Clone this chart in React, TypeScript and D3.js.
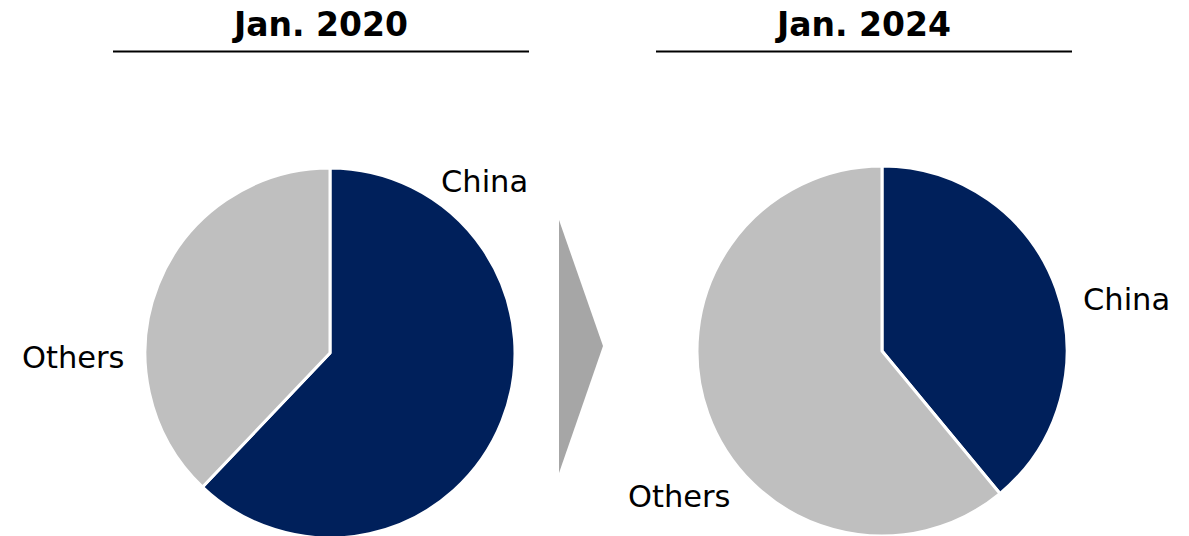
import React from "react";
import * as d3 from "d3";

const categories = ["China", "Others"];
const values2020 = [62.1, 37.9];
const values2024 = [39.0, 61.0];
const titles = ["Jan. 2020", "Jan. 2024"];
const colors = ["#00205B", "#BFBFBF"];

const W = 1189;
const H = 536;
const R = 185;

type PieSpec = {
  title: string;
  values: number[];
  cx: number;
  cy: number;
  titleX: number;
  lineX: [number, number];
  labels: { x: number; y: number }[];
};

const pies: PieSpec[] = [
  {
    title: titles[0],
    values: values2020,
    cx: 330,
    cy: 353,
    titleX: 321,
    lineX: [113, 529],
    labels: [
      { x: 441, y: 192 },
      { x: 22, y: 368 },
    ],
  },
  {
    title: titles[1],
    values: values2024,
    cx: 882,
    cy: 351,
    titleX: 864,
    lineX: [656, 1072],
    labels: [
      { x: 1083, y: 310 },
      { x: 628, y: 507 },
    ],
  },
];

export default function App() {
  const pie = d3.pie<number>().sort(null).value((d) => d);
  const arc = d3.arc<d3.PieArcDatum<number>>().innerRadius(0).outerRadius(R);
  const font = "'DejaVu Sans', Verdana, sans-serif";
  return (
    <svg
      width={W}
      height={H}
      style={{ position: "absolute", left: 0, top: 0, background: "#fff" }}
      fontFamily={font}
    >
      {pies.map((p, i) => (
        <g key={i}>
          <text
            x={p.titleX}
            y={36}
            textAnchor="middle"
            fontWeight="bold"
            fontSize={33}
            fill="#000"
          >
            {p.title}
          </text>
          <line
            x1={p.lineX[0]}
            x2={p.lineX[1]}
            y1={51.5}
            y2={51.5}
            stroke="#000"
            strokeWidth={2}
          />
          <g transform={`translate(${p.cx},${p.cy})`}>
            {pie(p.values).map((a, j) => (
              <path
                key={j}
                d={arc(a) || ""}
                fill={colors[j]}
                stroke="#fff"
                strokeWidth={3}
                strokeLinejoin="round"
              />
            ))}
          </g>
          {categories.map((c, j) => (
            <text
              key={c}
              x={p.labels[j].x}
              y={p.labels[j].y}
              fontSize={30.5}
              fill="#000"
            >
              {c}
            </text>
          ))}
        </g>
      ))}
      <polygon points="559,220 603,346 559,473" fill="#A6A6A6" />
    </svg>
  );
}
